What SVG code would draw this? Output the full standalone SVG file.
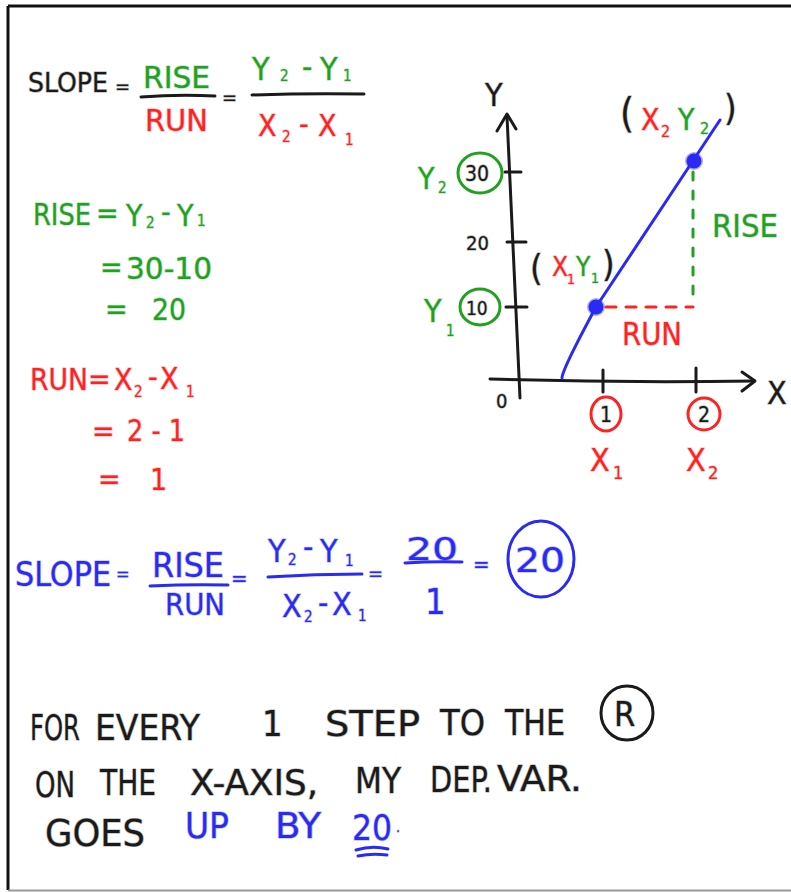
<svg xmlns="http://www.w3.org/2000/svg" width="791" height="892" viewBox="0 0 791 892">
<style>
text{font-family:"DejaVu Sans Condensed","DejaVu Sans",sans-serif;paint-order:stroke;stroke-width:1.5;stroke-opacity:0.3;stroke-linejoin:round}
.k{fill:#1a1a1a;stroke:#1a1a1a}
.g{fill:#22a022;stroke:#22a022}
.r{fill:#f22;stroke:#f22}
.b{fill:#2a2af5;stroke:#2a2af5}
.ln{fill:none;stroke-width:3;stroke-linecap:round;stroke-linejoin:round}
.lk{stroke:#1a1a1a}.lg{stroke:#22a022}.lr{stroke:#f22}.lb{stroke:#2a2af5}
.s{font-size:15px}
</style>
<rect width="791" height="892" fill="#fff"/>
<path d="M8 6 H791 M8 6 V890" fill="none" stroke="#111" stroke-width="3"/>
<path d="M8 890.5 H791" stroke="#999" stroke-width="2"/>

<g id="slope-formula">
<text class="k" x="28" y="92" font-size="26" textLength="80" lengthAdjust="spacingAndGlyphs">SLOPE</text>
<text class="k" x="115" y="93" font-size="20">=</text>
<text class="g" x="143" y="88" font-size="30" textLength="67" lengthAdjust="spacingAndGlyphs">RISE</text>
<path class="ln lk" d="M141 97 Q178 94 215 96"/>
<text class="r" x="145" y="131" font-size="30" textLength="63" lengthAdjust="spacingAndGlyphs">RUN</text>
<text class="k" x="222" y="104" font-size="20">=</text>
<text class="g" font-size="32"><tspan x="252" y="80">Y</tspan><tspan class="s" x="280" y="81">2</tspan><tspan x="302" y="78">-</tspan><tspan x="320" y="80">Y</tspan><tspan class="s" x="343" y="81">1</tspan></text>
<path class="ln lk" d="M252 95 Q308 93 364 94"/>
<text class="r" font-size="30"><tspan x="258" y="136">X</tspan><tspan class="s" x="282" y="142">2</tspan><tspan x="299" y="134">-</tspan><tspan x="318" y="136">X</tspan><tspan class="s" x="345" y="145">1</tspan></text>
</g>

<g id="rise-calc">
<text class="g" font-size="30"><tspan x="33" y="225" textLength="58" lengthAdjust="spacingAndGlyphs">RISE</tspan><tspan x="96" y="223">=</tspan><tspan x="126" y="226">Y</tspan><tspan class="s" x="146" y="228">2</tspan><tspan x="161" y="222">-</tspan><tspan x="177" y="226">Y</tspan><tspan class="s" x="197" y="226">1</tspan></text>
<text class="g" font-size="30"><tspan x="100" y="277">=</tspan><tspan x="126" y="279" textLength="86" lengthAdjust="spacingAndGlyphs">30-10</tspan></text>
<text class="g" font-size="30"><tspan x="105" y="319">=</tspan><tspan x="152" y="320" textLength="34" lengthAdjust="spacingAndGlyphs">20</tspan></text>
</g>

<g id="run-calc">
<text class="r" font-size="30"><tspan x="30" y="390" textLength="58" lengthAdjust="spacingAndGlyphs">RUN</tspan><tspan x="88" y="389">=</tspan><tspan x="114" y="390">X</tspan><tspan class="s" x="134" y="397">2</tspan><tspan x="148" y="387">-</tspan><tspan x="160" y="389">X</tspan><tspan class="s" x="186" y="397">1</tspan></text>
<text class="r" font-size="30"><tspan x="92" y="441">=</tspan><tspan x="127" y="441" textLength="58" lengthAdjust="spacingAndGlyphs">2 - 1</tspan></text>
<text class="r" font-size="30"><tspan x="98" y="489">=</tspan><tspan x="150" y="490">1</tspan></text>
</g>

<g id="graph-connectors">
<path class="ln lk" d="M507 116 Q514 260 520 398"/>
<path class="ln lk" d="M497 131 L507 114 L516 129"/>
<path class="ln lk" d="M490 379 Q620 383 754 381"/>
<path class="ln lk" d="M742 372 L755 381 L742 391"/>
<path class="ln lk" d="M505 172 H521 M507 242 H526 M506 307 H527 M603 370 V392 M696 368 V392"/>
<path class="ln lb" d="M562 378 Q562 370 596 307 L720 120"/>
<path class="ln lr" d="M606 307 H693" stroke-dasharray="10 10"/>
<path class="ln lg" d="M693 172 V305" stroke-dasharray="8 11"/>
</g>

<g id="graph-labels">
<text class="k" x="485" y="106" font-size="32">Y</text>
<text class="k" x="767" y="404" font-size="32">X</text>
<text class="k" x="496" y="408" font-size="20">0</text>
<text class="k" x="466" y="250" font-size="20">20</text>
<g id="y2-tick">
<ellipse cx="480" cy="173" rx="22" ry="20" class="ln lg"/>
<text class="k" x="465" y="181" font-size="21">30</text>
<text class="g" font-size="30"><tspan x="418" y="189">Y</tspan><tspan class="s" x="438" y="193">2</tspan></text>
</g>
<g id="y1-tick">
<ellipse cx="480" cy="307" rx="20" ry="18" class="ln lg"/>
<text class="k" x="466" y="315" font-size="19">10</text>
<text class="g" font-size="32"><tspan x="424" y="322">Y</tspan><tspan class="s" x="446" y="336">1</tspan></text>
</g>
<g id="x1-tick">
<ellipse cx="606" cy="414" rx="15" ry="17" class="ln lr"/>
<text class="k" x="600" y="422" font-size="21">1</text>
<text class="r" font-size="32"><tspan x="590" y="471">X</tspan><tspan font-size="18" x="613" y="479">1</tspan></text>
</g>
<g id="x2-tick">
<ellipse cx="704" cy="414" rx="16" ry="16" class="ln lr"/>
<text class="k" x="698" y="422" font-size="21">2</text>
<text class="r" font-size="32"><tspan x="686" y="471">X</tspan><tspan font-size="18" x="708" y="479">2</tspan></text>
</g>
<g id="point1">
<circle cx="596" cy="307" r="7.5" fill="#2a2af5" stroke="#2a2af5" stroke-opacity="0.4" stroke-width="3"/>
<text class="k" x="530" y="280" font-size="36">(</text>
<text class="r" x="552" y="276" font-size="26">X</text>
<text class="r" x="567" y="284" font-size="14">1</text>
<text class="g" x="576" y="276" font-size="26">Y</text>
<text class="g" x="591" y="283" font-size="14">1</text>
<text class="k" x="602" y="276" font-size="36">)</text>
</g>
<g id="point2">
<circle cx="694" cy="161" r="7.5" fill="#2a2af5" stroke="#2a2af5" stroke-opacity="0.4" stroke-width="3"/>
<text class="k" x="620" y="127" font-size="40">(</text>
<text class="r" x="641" y="130" font-size="30">X</text>
<text class="r" x="661" y="137" font-size="16">2</text>
<text class="g" x="678" y="130" font-size="30">Y</text>
<text class="g" x="700" y="134" font-size="16">2</text>
<text class="k" x="724" y="120" font-size="36">)</text>
</g>
<text class="g" x="712" y="237" font-size="32" textLength="66" lengthAdjust="spacingAndGlyphs">RISE</text>
<text class="r" x="622" y="345" font-size="32" textLength="60" lengthAdjust="spacingAndGlyphs">RUN</text>
</g>

<g id="slope-result">
<text class="b" x="15" y="586" font-size="34" textLength="96" lengthAdjust="spacingAndGlyphs">SLOPE</text>
<text class="b" x="116" y="580" font-size="18">=</text>
<text class="b" x="152" y="577" font-size="34" textLength="72" lengthAdjust="spacingAndGlyphs">RISE</text>
<path class="ln lb" d="M150 586 Q190 584 228 585"/>
<text class="b" x="165" y="615" font-size="30" textLength="60" lengthAdjust="spacingAndGlyphs">RUN</text>
<text class="b" x="231" y="586" font-size="22">=</text>
<text class="b" font-size="32"><tspan x="268" y="562">Y</tspan><tspan class="s" x="288" y="565">2</tspan><tspan x="303" y="558">-</tspan><tspan x="320" y="562">Y</tspan><tspan class="s" x="345" y="566">1</tspan></text>
<path class="ln lb" d="M268 577 Q315 574 362 574"/>
<text class="b" font-size="32"><tspan x="282" y="617">X</tspan><tspan class="s" x="304" y="622">2</tspan><tspan x="318" y="614">-</tspan><tspan x="332" y="615">X</tspan><tspan class="s" x="358" y="621">1</tspan></text>
<text class="b" x="368" y="580" font-size="20">=</text>
<text class="b" x="406" y="560" font-size="32" textLength="52" lengthAdjust="spacingAndGlyphs">20</text>
<path class="ln lb" d="M405 563 Q434 561 462 562"/>
<text class="b" x="425" y="614" font-size="36">1</text>
<text class="b" x="473" y="572" font-size="22">=</text>
<ellipse cx="541" cy="559" rx="33" ry="38" class="ln lb"/>
<text class="b" x="515" y="572" font-size="34" textLength="50" lengthAdjust="spacingAndGlyphs">20</text>
</g>

<g id="conclusion">
<text class="k" font-size="36"><tspan x="30" y="740" textLength="50" lengthAdjust="spacingAndGlyphs">FOR</tspan><tspan x="95" y="740" textLength="105" lengthAdjust="spacingAndGlyphs">EVERY</tspan><tspan x="262" y="736">1</tspan><tspan x="325" y="736" textLength="95" lengthAdjust="spacingAndGlyphs">STEP</tspan><tspan x="440" y="735" textLength="45" lengthAdjust="spacingAndGlyphs">TO</tspan><tspan x="505" y="735" textLength="60" lengthAdjust="spacingAndGlyphs">THE</tspan></text>
<ellipse cx="627" cy="713" rx="26" ry="27" class="ln lk"/>
<text class="k" x="614" y="726" font-size="34">R</text>
<text class="k" font-size="36"><tspan x="35" y="797" textLength="40" lengthAdjust="spacingAndGlyphs">ON</tspan><tspan x="100" y="795" textLength="56" lengthAdjust="spacingAndGlyphs">THE</tspan><tspan x="190" y="795" textLength="128" lengthAdjust="spacingAndGlyphs">X-AXIS,</tspan><tspan x="355" y="793" textLength="46" lengthAdjust="spacingAndGlyphs">MY</tspan><tspan x="430" y="792" textLength="62" lengthAdjust="spacingAndGlyphs">DEP.</tspan><tspan x="497" y="791" textLength="85" lengthAdjust="spacingAndGlyphs">VAR.</tspan></text>
<text class="k" x="45" y="846" font-size="38" textLength="100" lengthAdjust="spacingAndGlyphs">GOES</text>
<text class="b" font-size="36"><tspan x="185" y="838" textLength="44" lengthAdjust="spacingAndGlyphs">UP</tspan><tspan x="275" y="838" textLength="46" lengthAdjust="spacingAndGlyphs">BY</tspan><tspan x="352" y="840" textLength="40" lengthAdjust="spacingAndGlyphs">20</tspan><tspan x="396" y="832" font-size="14">.</tspan></text>
<path class="ln lb" d="M356 850 Q372 845 388 849 M358 856 Q372 853 387 855"/>
</g>
</svg>
